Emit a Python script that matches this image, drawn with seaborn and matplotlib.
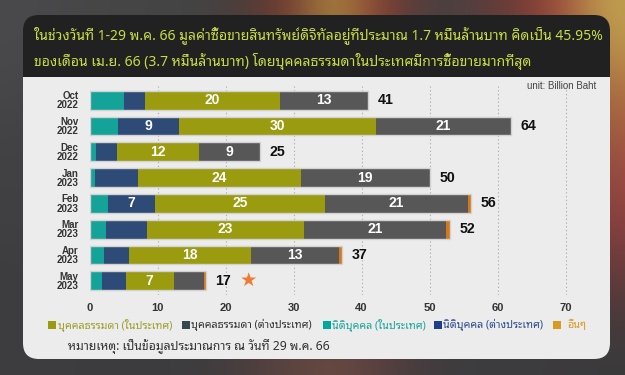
import numpy as np
import pandas as pd
import matplotlib
matplotlib.use("Agg")
import matplotlib.pyplot as plt
import seaborn as sns
from matplotlib import font_manager as fm
from matplotlib.ft2font import FT2Font
from matplotlib.patches import FancyBboxPatch, Rectangle
from matplotlib.colors import to_rgb

# ---------------- data ----------------
months = ["Oct\n2022", "Nov\n2022", "Dec\n2022", "Jan\n2023",
          "Feb\n2023", "Mar\n2023", "Apr\n2023", "May\n2023"]
corp_dom = [5.0, 4.2, 0.9, 0.8, 2.7, 2.4, 2.1, 1.9]      # นิติบุคคล (ในประเทศ)
corp_for = [3.1, 8.9, 3.2, 6.3, 7.0, 6.1, 3.7, 3.4]      # นิติบุคคล (ต่างประเทศ)
ind_dom = [19.9, 29.0, 12.0, 24.0, 24.9, 23.0, 18.0, 7.1]  # บุคคลธรรมดา (ในประเทศ)
ind_for = [13.0, 19.9, 9.0, 18.9, 21.1, 20.9, 12.9, 4.4]   # บุคคลธรรมดา (ต่างประเทศ)
others = [0.0, 0.0, 0.0, 0.0, 0.4, 0.6, 0.4, 0.3]          # อื่นๆ

ind_dom_labels = ["20", "30", "12", "24", "25", "23", "18", "7"]
ind_for_labels = ["13", "21", "9", "19", "21", "21", "13", ""]
corp_for_labels = ["", "9", "", "", "7", "", "", ""]
total_labels = ["41", "64", "25", "50", "56", "52", "37", "17"]

legend_labels = ["บุคคลธรรมดา (ในประเทศ)", "บุคคลธรรมดา (ต่างประเทศ)",
                 "นิติบุคคล (ในประเทศ)", "นิติบุคคล (ต่างประเทศ)", "อื่นๆ"]
title_lines = ["ในช่วงวันที่ 1-29 พ.ค. 66 มูลค่าซื้อขายสินทรัพย์ดิจิทัลอยู่ที่ประมาณ 1.7 หมื่นล้านบาท คิดเป็น 45.95%",
               "ของเดือน เม.ย. 66 (3.7 หมื่นล้านบาท) โดยบุคคลธรรมดาในประเทศมีการซื้อขายมากที่สุด"]
footnote = "หมายเหตุ: เป็นข้อมูลประมาณการ ณ วันที่ 29 พ.ค. 66"
unit_text = "unit: Billion Baht"
x_ticks = [0, 10, 20, 30, 40, 50, 60, 70]

# ---------------- fonts ----------------
sns.set_theme(style="white")
thai_fams = []
for f in fm.fontManager.ttflist:
    try:
        if 0x0E01 in FT2Font(f.fname).get_charmap():
            thai_fams.append(f.name)
    except Exception:
        pass
pref = ["Tahoma", "Noto Sans Thai Looped", "Noto Sans Thai", "Noto Sans Thai UI",
        "Loma", "Garuda", "Sarabun", "Leelawadee UI"]
thai_font = None
for p in pref:
    if p in thai_fams:
        thai_font = p
        break
if thai_font is None and thai_fams:
    thai_font = sorted(set(thai_fams))[0]
thai_list = ([thai_font] if thai_font else []) + ["DejaVu Sans"]
num_font = ["Liberation Sans", "DejaVu Sans"]
plt.rcParams["font.family"] = thai_list

# ---------------- colours ----------------
c_teal = "#14A398"
c_navy = "#2E4A76"
c_olive = "#9A9B0E"
c_dark = "#575757"
c_orange = "#D2791E"

W, H = 625, 375
fig = plt.figure(figsize=(W / 100, H / 100), dpi=100)
fig.patch.set_facecolor("#3a3b3d")

bg = fig.add_axes([0, 0, 1, 1])
bg.set_xlim(0, W)
bg.set_ylim(H, 0)
bg.axis("off")

# blurred photographic backdrop (decorative)
base = "#414143"
grid = [[base] * 14 for _ in range(6)]
grid[0] = ["#4a4a4c", "#48484a", "#464646", "#454545", "#444444", "#4c3c38", "#7a3a30",
           "#b09040", "#8a3a30", "#4a4040", "#504040", "#703a35", "#a04a3a", "#c0a050"]
grid[0][13] = "#c0a050"
right_col = ["#c0a050", "#b07040", "#a05040", "#904040", "#603a3a", "#3a3a3c"]
for r in range(6):
    grid[r][13] = right_col[r]
grid[5] = ["#3e3e40", "#3d3d3f", "#3c3c3e", "#3c3c3e", "#3e3c3e", "#4a3e3e", "#5e4440",
           "#6a4a40", "#5a4040", "#443c3e", "#3c3c3e", "#3c3c3e", "#3c3a3c", "#3a3a3c"]
grid[1][0] = "#474749"
grid[4][0] = "#3c3c3e"
img = np.array([[to_rgb(c) for c in row] for row in grid])
bg.imshow(img, extent=(0, W, H, 0), interpolation="bicubic", aspect="auto", zorder=0)

# panel + header
bg.add_patch(FancyBboxPatch((23, 40), 587, 319, boxstyle="round,pad=0,rounding_size=16",
                            fc="#ECECEC", ec="none", zorder=1))
bg.add_patch(FancyBboxPatch((23, 15), 587, 62, boxstyle="round,pad=0,rounding_size=16",
                            fc="#212121", ec="none", zorder=2))
bg.add_patch(Rectangle((23, 45), 587, 32, fc="#212121", ec="none", zorder=2))

fig.canvas.draw()
renderer = fig.canvas.get_renderer()


def fit_width(txt, target):
    w = txt.get_window_extent(renderer).width
    txt.set_fontsize(txt.get_fontsize() * target / w)
    return txt.get_fontsize()


t1 = bg.text(34, 35, title_lines[0], color="#C8DC46", fontsize=11, va="center",
             ha="left", zorder=3)
fs_title = fit_width(t1, 570)
bg.text(34, 61, title_lines[1], color="#C8DC46", fontsize=fs_title, va="center",
        ha="left", zorder=3)

bg.text(596, 86, unit_text, fontsize=7, color="#444444", ha="right", va="center",
        family=num_font, zorder=3)

# legend (manual)
leg_sq = [c_olive, "#37474F", "#00A99D", "#1F3E8C", "#D99A22"]
leg_tx = ["#9E9E2A", "#333333", "#1AA39A", "#2B4C8C", "#D99A22"]
leg_x = [48, 182, 323, 434, 553]
leg_gap = [10, 9, 9, 9, 14]
probe = bg.text(0, 0, legend_labels[0], fontsize=8)
fs_leg = fit_width(probe, 115)
probe.remove()
for lbl, sq, tc, x0, g in zip(legend_labels, leg_sq, leg_tx, leg_x, leg_gap):
    bg.add_patch(Rectangle((x0, 321), 8, 8, fc=sq, ec="none", zorder=3))
    bg.text(x0 + g, 325, lbl, color=tc, fontsize=fs_leg, va="center", ha="left", zorder=3)

fn = bg.text(68, 346, footnote, color="#333333", fontsize=8.5, va="center", ha="left",
             zorder=3)
fit_width(fn, 264)

# ---------------- main chart ----------------
ax = fig.add_axes([89.5 / W, (H - 295) / H, 510 / W, 209 / H])
ax.set_facecolor("none")

df = pd.DataFrame({"month": months, "corp_dom": corp_dom, "corp_for": corp_for,
                   "ind_dom": ind_dom, "ind_for": ind_for, "others": others})
cols = ["corp_dom", "corp_for", "ind_dom", "ind_for", "others"]
colors = [c_teal, c_navy, c_olive, c_dark, c_orange]
cum = df[cols].cumsum(axis=1)

for col, colr in zip(reversed(cols), reversed(colors)):
    sns.barplot(x=cum[col], y=df["month"], color=colr, width=0.735, orient="y",
                errorbar=None, linewidth=0, saturation=1, ax=ax, zorder=2)
sns.barplot(x=cum["others"], y=df["month"], fill=False, color="#d2d2d2", width=0.735,
            orient="y", errorbar=None, linewidth=1.0, ax=ax, zorder=3)

# segment labels
lab_kw = dict(color="white", fontsize=10, fontweight="bold", ha="center", va="center",
              family=num_font, zorder=4)
prev_ind_dom = cum["corp_for"]
prev_ind_for = cum["ind_dom"]
prev_corp_for = cum["corp_dom"]
for i in range(len(months)):
    if ind_dom_labels[i]:
        ax.text(prev_ind_dom[i] + ind_dom[i] / 2, i, ind_dom_labels[i], **lab_kw)
    if ind_for_labels[i]:
        ax.text(prev_ind_for[i] + ind_for[i] / 2, i, ind_for_labels[i], **lab_kw)
    if corp_for_labels[i]:
        ax.text(prev_corp_for[i] + corp_for[i] / 2, i, corp_for_labels[i], **lab_kw)
    ax.annotate(total_labels[i], xy=(cum["others"][i], i), xytext=(7, 0),
                textcoords="offset points", ha="left", va="center", fontsize=10.2,
                fontweight="bold", color="#111111", family=num_font, zorder=4)

# highlight star on latest month
last = len(months) - 1
ax.annotate("★", xy=(cum["others"][last], last), xytext=(31, 0), textcoords="offset points",
            ha="center", va="center", fontsize=14, color="#F07A30",
            family=["DejaVu Sans"], zorder=4)

ax.set_xlim(0, 75)
ax.set_ylim(7.55, -0.55)
ax.set_xticks(x_ticks)
ax.set_xticklabels([str(t) for t in x_ticks], fontweight="bold", color="#333333",
                   fontsize=8, family=num_font)
ax.set_yticks(range(len(months)))
ax.set_yticklabels(months, fontweight="bold", color="#333333", fontsize=7,
                   family=num_font, linespacing=0.9)
ax.tick_params(axis="both", length=0)
ax.tick_params(axis="x", pad=6)
ax.tick_params(axis="y", pad=8)
ax.set_xlabel("")
ax.set_ylabel("")
ax.xaxis.grid(True, linestyle=(0, (1.2, 2.2)), color="#b0b0b0", linewidth=0.8, zorder=0)
ax.set_axisbelow(True)
ax.get_xgridlines()[0].set_visible(False)
for s in ax.spines.values():
    s.set_visible(False)

fig.savefig("out.png", dpi=100, facecolor=fig.get_facecolor())
